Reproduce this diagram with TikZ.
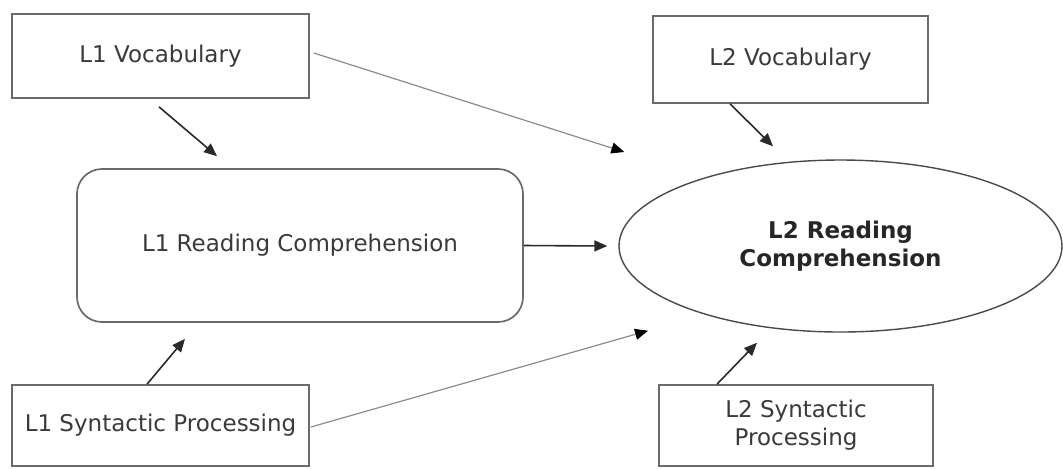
\documentclass[tikz,border=0pt]{standalone}
\usepackage{fontspec}
\setmainfont{DejaVu Sans}
\usetikzlibrary{arrows.meta,shapes.geometric,calc}
\definecolor{boxline}{HTML}{6A6A6A}
\definecolor{ellline}{HTML}{4A4A4A}
\definecolor{txt}{HTML}{3A3A3A}
\definecolor{darkarrow}{HTML}{2A2A2A}
\definecolor{lightarrow}{HTML}{8C8C8C}
\tikzset{
  box/.style={draw=boxline, line width=0.85pt, fill=white, text=txt, inner sep=0pt, align=center,
    font=\fontsize{11.5}{14}\selectfont},
  rbox/.style={box, rounded corners=12.5pt},
  oval/.style={ellipse, draw=ellline, line width=0.7pt, inner sep=0pt, align=center,
    text=black!85, font=\fontsize{11.5}{14}\selectfont\bfseries},
  darr/.style={draw=darkarrow, line width=0.8pt, -{Triangle[length=6.5pt,width=5.5pt]}},
  larr/.style={draw=lightarrow, line width=0.6pt, -{Triangle[length=6.5pt,width=5.5pt,fill=black,color=black]}}
}
\begin{document}
\begin{tikzpicture}[x=0.5pt,y=-0.5pt]
\useasboundingbox[fill=white] (0,0) rectangle (1063,468);
\node[box, minimum width=148.5pt, minimum height=42pt] (l1v) at (160.5,56) {L1 Vocabulary};
\node[box, minimum width=137.5pt, minimum height=43.5pt] (l2v) at (790.5,59.5) {L2 Vocabulary};
\node[rbox, minimum width=223pt, minimum height=76.5pt] (l1rc) at (300,245.5) {L1 Reading Comprehension};
\node[oval, minimum width=221.5pt, minimum height=86pt] (l2rc) at (840.5,246) {L2 Reading\\Comprehension};
\node[box, minimum width=148.5pt, minimum height=40.5pt] (l1syn) at (160.5,425.5) {L1 Syntactic Processing};
\node[box, minimum width=137pt, minimum height=40.5pt] (l2syn) at (796,425.5) {L2 Syntactic\\Processing};

\draw[darr] ($(l1v.south)+(-1.5,8)$) -- ($(l1rc.north)+(-83,-12)$);
\draw[larr] ($(l1v.east)+(4,-3)$) -- ($(l2rc.west)+(6,-94)$);
\draw[darr] ($(l2v.south)+(-60.5,0)$) -- ($(l2rc.north)+(-67.5,-13)$);
\draw[darr] (l1rc.east) -- ($(l2rc.west)+(-11,0)$);
\draw[darr] ($(l1syn.north)+(-13.5,0)$) -- ($(l1rc.south)+(-115,16)$);
\draw[larr] ($(l1syn.east)+(1,1.5)$) -- ($(l2rc.south)+(-192.5,-2)$);
\draw[darr] ($(l2syn.north)+(-79,0)$) -- ($(l2rc.south)+(-83.5,10)$);
\end{tikzpicture}
\end{document}
